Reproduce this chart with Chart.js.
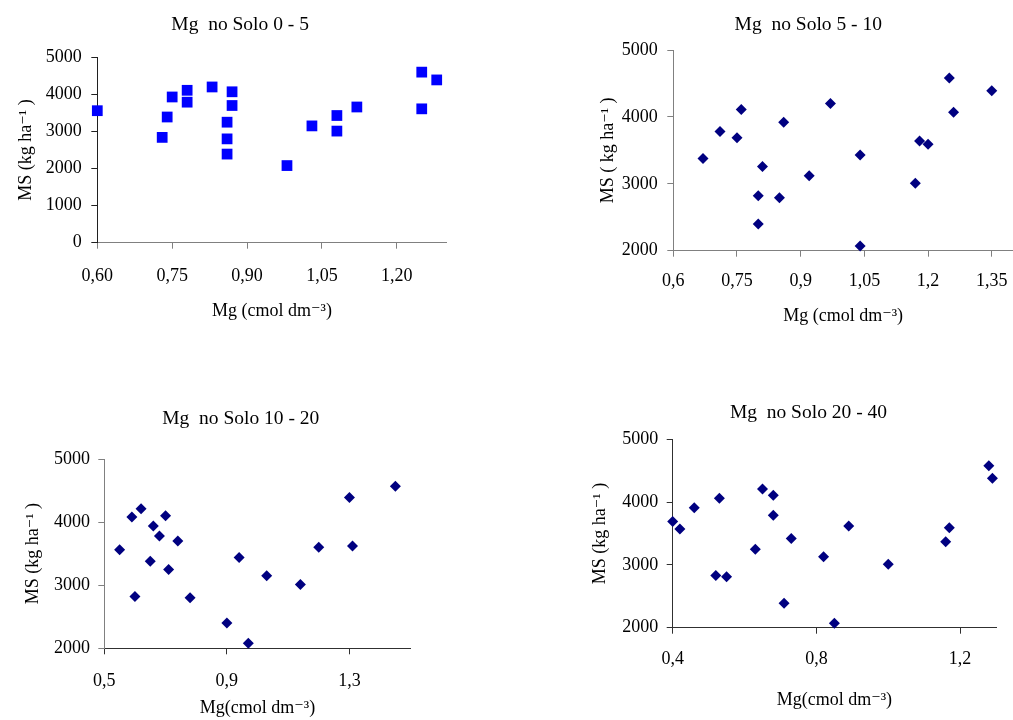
<!DOCTYPE html>
<html>
<head>
<meta charset="utf-8">
<script src="https://cdn.jsdelivr.net/npm/chart.js@4.4.1/dist/chart.umd.min.js"></script>
<style>
html,body{margin:0;padding:0;background:#fff;overflow:hidden;width:1013px;height:720px;}
canvas{position:absolute;}
</style>
</head>
<body>
<canvas id="c1"></canvas>
<canvas id="c2"></canvas>
<canvas id="c3"></canvas>
<canvas id="c4"></canvas>
<script>
// ---------- DATA ----------
// Panel 1: Mg no Solo 0 - 5
const p1Title = 'Mg  no Solo 0 - 5';
const p1Mg = [0.60,0.73,0.74,0.75,0.78,0.78,0.83,0.87,0.87,0.86,0.86,0.86,0.98,1.03,1.08,1.08,1.12,1.25,1.25,1.28];
const p1MS = [3560,2840,3390,3930,4110,3790,4200,4070,3700,3250,2800,2390,2080,3150,3430,3010,3660,4600,3610,4390];
const p1XTicks = [0.6,0.75,0.9,1.05,1.2];
const p1XTickLabels = ['0,60','0,75','0,90','1,05','1,20'];
const p1YTicks = [0,1000,2000,3000,4000,5000];
const p1XTitle = 'Mg (cmol dm\u207B\u00B3)';
const p1YTitle = 'MS (kg ha\u207B\u00B9 )';

// Panel 2: Mg no Solo 5 - 10
const p2Title = 'Mg  no Solo 5 - 10';
const p2Mg = [0.67,0.71,0.75,0.76,0.80,0.80,0.81,0.85,0.86,0.92,0.97,1.04,1.04,1.17,1.18,1.20,1.25,1.26,1.35];
const p2MS = [3380,3780,3690,4110,2820,2400,3260,2790,3920,3120,4200,3430,2070,3010,3640,3590,4580,4070,4390];
const p2XTicks = [0.6,0.75,0.9,1.05,1.2,1.35];
const p2XTickLabels = ['0,6','0,75','0,9','1,05','1,2','1,35'];
const p2YTicks = [2000,3000,4000,5000];
const p2XTitle = 'Mg (cmol dm\u207B\u00B3)';
const p2YTitle = 'MS ( kg ha\u207B\u00B9 )';

// Panel 3: Mg no Solo 10 - 20
const p3Title = 'Mg  no Solo 10 - 20';
const p3Mg = [0.55,0.59,0.60,0.62,0.65,0.66,0.68,0.70,0.71,0.74,0.78,0.90,0.94,0.97,1.03,1.14,1.20,1.30,1.31,1.45];
const p3MS = [3560,4080,2820,4210,3380,3940,3780,4100,3250,3700,2800,2400,3440,2080,3150,3010,3600,4390,3620,4570];
const p3XTicks = [0.5,0.9,1.3];
const p3XTickLabels = ['0,5','0,9','1,3'];
const p3YTicks = [2000,3000,4000,5000];
const p3XTitle = 'Mg(cmol dm\u207B\u00B3)';
const p3YTitle = 'MS (kg ha\u207B\u00B9 )';

// Panel 4: Mg no Solo 20 - 40
const p4Title = 'Mg  no Solo 20 - 40';
const p4Mg = [0.40,0.42,0.46,0.52,0.53,0.55,0.63,0.65,0.68,0.68,0.71,0.73,0.82,0.85,0.89,1.00,1.16,1.17,1.28,1.29];
const p4MS = [3690,3570,3910,2830,4060,2810,3250,4210,4110,3790,2390,3420,3130,2070,3620,3010,3370,3590,4580,4380];
const p4XTicks = [0.4,0.8,1.2];
const p4XTickLabels = ['0,4','0,8','1,2'];
const p4YTicks = [2000,3000,4000,5000];
const p4XTitle = 'Mg(cmol dm\u207B\u00B3)';
const p4YTitle = 'MS (kg ha\u207B\u00B9 )';

// ---------- RENDERING ----------
const FAMILY = "'Liberation Serif', 'Times New Roman', 'DejaVu Serif', serif";
const FONT = {family: FAMILY, size: 18, weight: 'normal', lineHeight: 1.2};
const TFONT = {family: FAMILY, size: 19.5, weight: 'normal', lineHeight: 1.2};

function build(id, d, L) {
  const cv = document.getElementById(id);
  cv.width = L.W; cv.height = L.H;
  cv.style.left = L.ox + 'px'; cv.style.top = L.oy + 'px';
  cv.style.width = L.W + 'px'; cv.style.height = L.H + 'px';
  return new Chart(cv, {
    type: 'scatter',
    data: {datasets: [{
      data: d.xs.map((x, i) => ({x: x, y: d.ys[i]})),
      pointStyle: d.marker, pointRadius: d.radius, pointHoverRadius: d.radius,
      backgroundColor: d.color, borderColor: d.color, borderWidth: 0,
      showLine: false, clip: false
    }]},
    options: {
      responsive: false, animation: false, devicePixelRatio: 1,
      events: [],
      layout: {padding: {left: L.padL, right: 0, top: 0, bottom: 0}},
      plugins: {
        legend: {display: false}, tooltip: {enabled: false},
        title: {display: true, text: d.title, color: '#000', font: TFONT,
                padding: {top: L.tTop, bottom: L.tBot}}
      },
      scales: {
        x: {
          type: 'linear', position: 'bottom', min: d.xMin, max: d.xMax,
          afterBuildTicks: s => { s.ticks = d.xTicks.map(v => ({value: v})); },
          afterFit: s => { s.height = L.xH; s.paddingLeft = 0; s.paddingRight = 0; },
          ticks: {callback: (v, i) => d.xLabels[i], color: '#000', font: FONT,
                  padding: L.xTickPad, maxRotation: 0, autoSkip: false},
          grid: {display: true, drawOnChartArea: false, drawTicks: true, tickLength: 6,
                 color: L.xColor, lineWidth: 1},
          border: {display: true, color: L.xColor, width: 1},
          title: {display: true, text: d.xTitle, color: '#000', font: FONT,
                  padding: {top: 0, bottom: L.xtPadB}}
        },
        y: {
          type: 'linear', position: 'left', min: d.yMin, max: d.yMax,
          afterBuildTicks: s => { s.ticks = d.yTicks.map(v => ({value: v})); },
          afterFit: s => { s.width = L.yW; s.paddingTop = 0; s.paddingBottom = 0; },
          ticks: {callback: (v) => String(v), color: '#000', font: FONT,
                  padding: L.yTickPad, autoSkip: false},
          grid: {display: true, drawOnChartArea: false, drawTicks: true, tickLength: 6,
                 color: L.yColor, lineWidth: 1},
          border: {display: true, color: L.yColor, width: 1},
          title: {display: true, text: d.yTitle, color: '#000', font: FONT,
                  padding: {top: 0, bottom: 0}}
        },
        yPad: {
          type: 'linear', axis: 'y', position: 'right', display: true,
          grid: {display: false}, border: {display: false}, ticks: {display: false},
          afterFit: s => { s.width = L.k; s.paddingTop = 0; s.paddingBottom = 0; }
        }
      }
    }
  });
}

build('c1', {title: p1Title, xs: p1Mg, ys: p1MS, xTicks: p1XTicks, xLabels: p1XTickLabels, yTicks: p1YTicks,
  xMin: 0.6, xMax: 1.3, yMin: 0, yMax: 5000, xTitle: p1XTitle, yTitle: p1YTitle,
  marker: 'rect', radius: 7.6, color: '#0000FF'},
  {ox: 0, oy: 0, W: 465, H: 330, padL: 15.2, yW: 82.1, k: 18.3, xH: 87.3, tTop: 13.3, tBot: 20.6,
   xtPadB: 7.5, xTickPad: 16.5, yTickPad: 9.6, xColor: '#808080', yColor: '#202020'});

build('c2', {title: p2Title, xs: p2Mg, ys: p2MS, xTicks: p2XTicks, xLabels: p2XTickLabels, yTicks: p2YTicks,
  xMin: 0.6, xMax: 1.4, yMin: 2000, yMax: 5000, xTitle: p2XTitle, yTitle: p2YTitle,
  marker: 'rectRot', radius: 5.5, color: '#000080'},
  {ox: 597, oy: 0, W: 422, H: 340, padL: 0.5, yW: 75.8, k: 6, xH: 89.3, tTop: 13.3, tBot: 13.3,
   xtPadB: 12.5, xTickPad: 14.2, yTickPad: 9.6, xColor: '#808080', yColor: '#808080'});

build('c3', {title: p3Title, xs: p3Mg, ys: p3MS, xTicks: p3XTicks, xLabels: p3XTickLabels, yTicks: p3YTicks,
  xMin: 0.5, xMax: 1.5, yMin: 2000, yMax: 5000, xTitle: p3XTitle, yTitle: p3YTitle,
  marker: 'rectRot', radius: 5.5, color: '#000080'},
  {ox: 22, oy: 380, W: 437, H: 340, padL: 0.5, yW: 81.8, k: 48.3, xH: 71.7, tTop: 27.6, tBot: 28.0,
   xtPadB: 0.9, xTickPad: 16.6, yTickPad: 8.3, xColor: '#303030', yColor: '#808080'});

build('c4', {title: p4Title, xs: p4Mg, ys: p4MS, xTicks: p4XTicks, xLabels: p4XTickLabels, yTicks: p4YTicks,
  xMin: 0.4, xMax: 1.3, yMin: 2000, yMax: 5000, xTitle: p4XTitle, yTitle: p4YTitle,
  marker: 'rectRot', radius: 5.5, color: '#000080'},
  {ox: 589, oy: 380, W: 438, H: 340, padL: 0.9, yW: 82.8, k: 31, xH: 92.3, tTop: 21.0, tBot: 14.9,
   xtPadB: 9.2, xTickPad: 14.8, yTickPad: 8.4, xColor: '#303030', yColor: '#303030'});
</script>
</body>
</html>
